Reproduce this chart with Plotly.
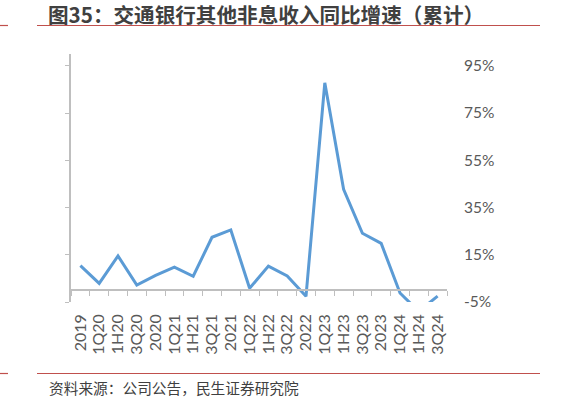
import plotly.graph_objects as go

categories = ["2019", "1Q20", "1H20", "3Q20", "2020", "1Q21", "1H21", "3Q21", "2021",
              "1Q22", "1H22", "3Q22", "2022", "1Q23", "1H23", "3Q23", "2023",
              "1Q24", "1H24", "3Q24"]
growth = [10.4, 2.9, 14.5, 2.2, 6.3, 9.8, 5.9, 22.4, 25.5,
          0.8, 10.2, 6.0, -2.6, 87.8, 42.7, 24.1, 19.8,
          -1.2, -9.0, -2.5]
y_ticks = [-5, 15, 35, 55, 75, 95]
y_range = [-5, 100]

title_text = "图35：交通银行其他非息收入同比增速（累计）"
source_text = "资料来源：公司公告，民生证券研究院"

W, H = 561, 397
L, R, T, B = 71, 114, 54, 95
pw, ph = W - L - R, H - T - B


def px_x(px):
    return (px - L) / pw


def px_y(py):
    return (H - B - py) / ph


line_blue = "#5B9BD5"
axis_gray = "#BFBFBF"
label_gray = "#595959"
red = "#C0504D"
font_lat = "Lato, 'Noto Sans', sans-serif"
font_cjk = "'Noto Sans CJK SC', 'Noto Sans', sans-serif"

fig = go.Figure()
fig.add_trace(go.Scatter(x=categories, y=growth, mode="lines",
                         line=dict(color=line_blue, width=3),
                         xaxis="x", yaxis="y", showlegend=False, hoverinfo="skip"))
fig.add_trace(go.Scatter(x=categories, y=growth, mode="lines", opacity=0,
                         line=dict(color=line_blue, width=0),
                         xaxis="x2", yaxis="y2", showlegend=False, hoverinfo="skip"))

zero_pos = (0 - y_range[0]) / (y_range[1] - y_range[0])

fig.update_layout(
    width=W, height=H,
    margin=dict(l=L, r=R, t=T, b=B, pad=0),
    paper_bgcolor="white", plot_bgcolor="white",
    xaxis=dict(type="category", categoryorder="array", categoryarray=categories,
               range=[-0.5, len(categories) - 0.5],
               anchor="free", position=zero_pos,
               showline=True, linecolor=axis_gray, linewidth=1.5,
               ticks="outside", ticklen=5, tickcolor=axis_gray, tickwidth=1,
               tickson="boundaries", showticklabels=False, showgrid=False,
               zeroline=False),
    xaxis2=dict(type="category", categoryorder="array", categoryarray=categories,
                range=[-0.5, len(categories) - 0.5],
                tickmode="array", tickvals=categories, ticktext=categories,
                overlaying="x", anchor="y2", side="bottom",
                showline=False, ticks="", showgrid=False, zeroline=False,
                tickangle=-90, ticklabelstandoff=8,
                tickfont=dict(family=font_lat, size=16, color=label_gray)),
    yaxis=dict(range=y_range, tickmode="array", tickvals=y_ticks,
               showline=True, linecolor=axis_gray, linewidth=1.5,
               ticks="outside", ticklen=4, tickcolor=axis_gray,
               showticklabels=False, showgrid=False, zeroline=False),
    yaxis2=dict(range=y_range, tickmode="array", tickvals=y_ticks,
                ticktext=[f"{v}%" for v in y_ticks],
                overlaying="y", side="right", anchor="x2",
                showline=False, ticks="", showgrid=False, zeroline=False,
                ticklabelstandoff=16,
                tickfont=dict(family=font_lat, size=15.5, color=label_gray)),
    annotations=[
        dict(text="<b>" + title_text + "</b>", xref="paper", yref="paper",
             x=px_x(46), y=px_y(14), xanchor="left", yanchor="middle",
             showarrow=False,
             font=dict(family=font_cjk, size=20.6, color="#404040")),
        dict(text=source_text, xref="paper", yref="paper",
             x=px_x(47), y=px_y(387), xanchor="left", yanchor="middle",
             showarrow=False,
             font=dict(family=font_cjk, size=14.7, color="#404040")),
    ],
    shapes=[
        dict(type="line", xref="paper", yref="paper",
             x0=px_x(37), x1=px_x(540), y0=px_y(25.5), y1=px_y(25.5),
             line=dict(color=red, width=1.2)),
        dict(type="line", xref="paper", yref="paper",
             x0=px_x(0), x1=px_x(8), y0=px_y(25.5), y1=px_y(25.5),
             line=dict(color=red, width=1.2)),
        dict(type="line", xref="paper", yref="paper",
             x0=px_x(37), x1=px_x(540), y0=px_y(373.5), y1=px_y(373.5),
             line=dict(color=red, width=1.2)),
        dict(type="line", xref="paper", yref="paper",
             x0=px_x(0), x1=px_x(8), y0=px_y(373.5), y1=px_y(373.5),
             line=dict(color=red, width=1.2)),
    ],
)

fig.write_html("out.html")
